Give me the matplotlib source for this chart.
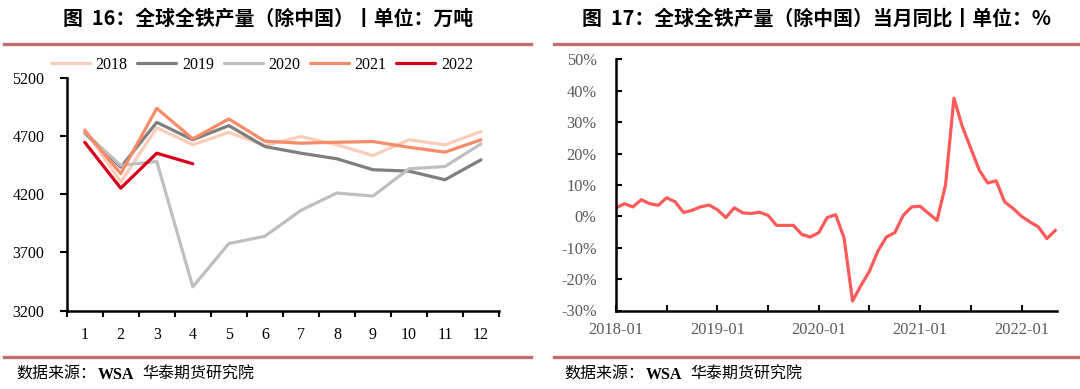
import matplotlib
matplotlib.use("Agg")
import matplotlib.pyplot as plt
from matplotlib.lines import Line2D

plt.rcParams['font.family'] = ['Liberation Serif', 'Noto Sans CJK SC']

# left chart: monthly production ex-China (10k t)
months = list(range(1, 13))
years = ['2018', '2019', '2020', '2021', '2022']
prod_2018 = [4755, 4305, 4770, 4625, 4730, 4618, 4695, 4624, 4532, 4667, 4624, 4738]
prod_2019 = [4724, 4432, 4817, 4667, 4789, 4609, 4552, 4504, 4410, 4398, 4324, 4495]
prod_2020 = [4730, 4447, 4481, 3405, 3776, 3839, 4061, 4210, 4184, 4418, 4438, 4632]
prod_2021 = [4746, 4376, 4937, 4675, 4846, 4655, 4638, 4646, 4652, 4603, 4561, 4667]
prod_2022 = [4646, 4252, 4552, 4461]
year_colors = ['#F9CDB8', '#7F7F7F', '#BFBFBF', '#F58B68', '#D7001A']

# right chart: yoy %, 2017-12 .. 2022-04 (points sit at month ends)
yoy = [2.7, 4.0, 3.0, 5.3, 4.0, 3.5, 5.9, 4.6, 1.2, 1.9, 3.0, 3.6,
       2.1, -0.4, 2.7, 1.1, 0.9, 1.3, 0.3, -2.9, -2.9, -2.9, -5.8, -6.6,
       -5.2, -0.4, 0.5, -6.9, -27.0, -22.0, -17.5, -11.1, -6.6, -5.2, 0.3, 3.0,
       3.2, 0.9, -1.3, 9.9, 37.6, 28.5, 21.6, 14.7, 10.6, 11.3, 4.6, 2.5,
       0.0, -1.8, -3.4, -7.1, -4.5]
date_labels = ['2018-01', '2019-01', '2020-01', '2021-01', '2022-01']

fig = plt.figure(figsize=(10.8, 3.89), dpi=100)

# ---- header / footer decorations
title_font = ['Noto Sans CJK SC', 'DejaVu Sans']
fig.text(268 / 1080, 1 - 18 / 389, '图  16：全球全铁产量（除中国）丨单位：万吨',
         ha='center', va='center', fontsize=14.3, fontweight='bold', family=title_font)
fig.text(817 / 1080, 1 - 18 / 389, '图  17：全球全铁产量（除中国）当月同比丨单位：%',
         ha='center', va='center', fontsize=14.3, fontweight='bold', family=title_font)
sep_color = '#C46B6B'
for x0, x1 in [(4, 531), (554, 1078)]:
    for yy in [44, 357]:
        fig.add_artist(Line2D([x0 / 1080, x1 / 1080], [1 - yy / 389] * 2,
                              color=sep_color, lw=2.4, transform=fig.transFigure))
src_font = ['Liberation Serif', 'Noto Sans CJK SC']
for sx in [16, 564]:
    fig.text(sx / 1080, 1 - 375 / 389, '数据来源：', ha='left', va='center',
             fontsize=11.5, family=src_font)
    fig.text((sx + 82) / 1080, 1 - 375 / 389, 'WSA', ha='left', va='center',
             fontsize=11.5, fontweight='bold', family=src_font)
    fig.text((sx + 126) / 1080, 1 - 375 / 389, '华泰期货研究院', ha='left', va='center',
             fontsize=11.5, family=src_font)

# ---- left chart
ax1 = fig.add_axes([66.7 / 1080, 1 - 310.7 / 389, (499 - 66.7) / 1080, (310.7 - 77.7) / 389])
series = [prod_2018, prod_2019, prod_2020, prod_2021, prod_2022]
for name, vals, c in zip(years, series, year_colors):
    ax1.plot(months[:len(vals)], vals, color=c, lw=2.3, label=name, solid_capstyle='round')
ax1.set_xlim(0.5, 12.5)
ax1.set_ylim(3200, 5200)
ax1.set_yticks([3200, 3700, 4200, 4700, 5200])
ax1.set_xticks([m - 0.5 for m in months] + [12.5])
ax1.set_xticklabels([])
ax1.set_xticks(months, minor=True)
ax1.set_xticklabels([str(m) for m in months], minor=True)
ax1.tick_params(axis='x', which='minor', length=0, pad=12, labelsize=11.5)
ax1.tick_params(axis='x', which='major', direction='out', length=4, width=1.5)
ax1.tick_params(axis='y', direction='out', length=5, width=1.5, pad=11, labelsize=11.5)
for s in ['top', 'right']:
    ax1.spines[s].set_visible(False)
for s in ['left', 'bottom']:
    ax1.spines[s].set_linewidth(1.8)
fig.legend(*ax1.get_legend_handles_labels(), loc='center', bbox_to_anchor=(262 / 1080, 1 - 65 / 389),
           ncol=5, frameon=False, fontsize=11.5, handlelength=2.45, handletextpad=0.35,
           columnspacing=0.6, borderaxespad=0, borderpad=0)

# ---- right chart
ax2 = fig.add_axes([616 / 1080, 1 - 310.5 / 389, (1057 - 616) / 1080, (310.5 - 59.3) / 389])
xs = list(range(len(yoy)))
ax2.plot(xs, yoy, color='#FF5A5A', lw=2.3)
ax2.set_xlim(0, 52.2)
ax2.set_ylim(-30, 50)
ax2.set_yticks(range(-30, 51, 10))
ax2.set_yticklabels([f'{v}%' for v in range(-30, 51, 10)])
ax2.set_xticks(range(0, 49, 6))
ax2.set_xticklabels([date_labels[i // 2] if i % 2 == 0 else '' for i in range(9)])
ax2.tick_params(axis='both', direction='in', length=4, width=1.5, labelcolor='#595959', labelsize=11.8)
ax2.tick_params(axis='y', pad=14)
ax2.tick_params(axis='x', pad=8)
for s in ['top', 'right']:
    ax2.spines[s].set_visible(False)
for s in ['left', 'bottom']:
    ax2.spines[s].set_linewidth(1.8)

fig.savefig('out.png', dpi=100)
